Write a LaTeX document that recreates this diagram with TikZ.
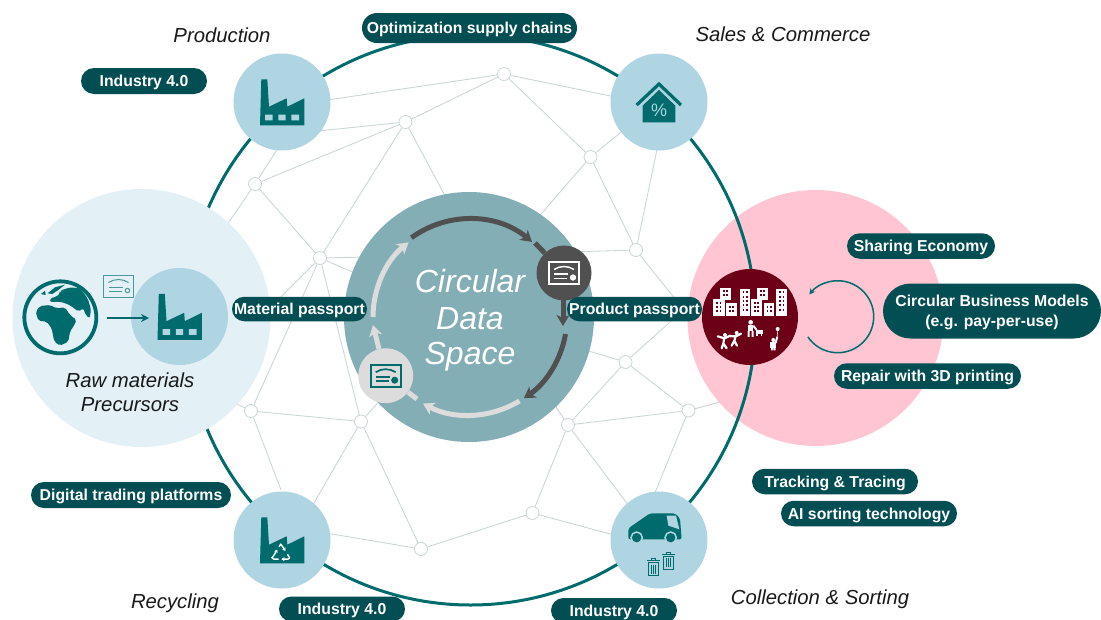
\documentclass[tikz,border=0pt]{standalone}
\usepackage{fontspec}
\setmainfont{Liberation Sans}
\usetikzlibrary{arrows.meta,shapes.misc,backgrounds}
\definecolor{pillc}{HTML}{024E52}
\definecolor{teal1}{HTML}{006B6D}
\definecolor{hubc}{HTML}{AFD4E2}
\definecolor{rawc}{HTML}{E3F0F5}
\definecolor{pinkc}{HTML}{FFC5D3}
\definecolor{maroon1}{HTML}{6B0016}
\definecolor{corec}{HTML}{84AEB5}
\definecolor{darkg}{HTML}{505050}
\definecolor{lightg}{HTML}{DCDCDC}
\definecolor{netc}{HTML}{CBD5D5}
\newcommand{\pilltext}[1]{\raisebox{-5.6pt}[0pt][0pt]{#1}}
\tikzset{
  pill/.style={rounded rectangle,fill=pillc,text=white,inner sep=0pt,font=\fontsize{15.8}{19.5}\selectfont\bfseries,align=center},
  hub/.style={circle,fill=hubc,minimum size=97pt,inner sep=0pt},
  netnode/.style={circle,draw=netc,fill=white,line width=.8pt,minimum size=13pt,inner sep=0pt},
  netline/.style={draw=netc,line width=.85pt},
  stagelabel/.style={font=\fontsize{20.3}{24}\selectfont\itshape,text=black!90},
  corelabel/.style={font=\fontsize{32}{38}\selectfont\itshape,text=white},
  flowdark/.style={draw=darkg,line width=5pt},
  flowlight/.style={draw=lightg,line width=5pt},
  tipd/.style={-{Stealth[length=11pt,width=13pt,inset=3pt]}},
  factorybody/.pic={
    \fill[teal1] (-20.7,-22.7)--(-14.7,-22.7)--(-13,4.7)--(4.7,-3.7)--(5.3,4.7)--(22.3,-3.7)--(22.3,23.3)--(-22,23.3)--cycle;
  },
  factorywin/.pic={
    \fill[hubc] (-17,12.7) rectangle (-9.3,18.3) (-3.7,12.7) rectangle (3.7,18.3) (9.3,12.7) rectangle (17,18.3);
  },
  binicon/.pic={
    \draw[teal1,line width=1pt] (-6.5,-7)--(6.5,-7);
    \draw[teal1,line width=1pt] (-2,-7)--(-2,-9)--(2,-9)--(2,-7);
    \draw[teal1,line width=1pt] (-5,-5)--(-5,8)--(5,8)--(5,-5)--cycle;
    \draw[teal1,line width=.9pt] (-2,-3)--(-2,6) (0,-3)--(0,6) (2,-3)--(2,6);
  },
}
\newcommand{\cardicon}[4]{%
  \begin{scope}[shift={(#1)},scale=#4]
    \draw[#2,line width=#3] (-15,-11) rectangle (15,11);
    \draw[#2,line width=#3] (-10,-3.5) .. controls (-4,-7.5) and (4,-7.5) .. (10,-3.5);
    \draw[#2,line width=#3] (-10,1)--(4,1) (-10,5.5)--(3,5.5);
    \draw[#2,line width=#3] (9,4.5) circle[radius=2.2];
  \end{scope}}
\begin{document}
\begin{tikzpicture}[x=1pt,y=-1pt]
\useasboundingbox (0,0) rectangle (1101,619);
% network nodes
\node[netnode] (n1) at (504,74) {};
\node[netnode] (n2) at (405.5,122) {};
\node[netnode] (n3) at (255,184) {};
\node[netnode] (n4) at (320,258) {};
\node[netnode] (n5) at (590.5,157) {};
\node[netnode] (n6) at (636,250) {};
\node[netnode] (n7) at (251,411) {};
\node[netnode] (n8) at (361,421.5) {};
\node[netnode] (n9) at (421,549) {};
\node[netnode] (n10) at (532.5,513) {};
\node[netnode] (n11) at (568,425) {};
\node[netnode] (n12) at (625.5,362) {};
\node[netnode] (n13) at (688.5,410.5) {};
% free ends hidden below the large discs
\foreach \nm/\px/\py in {e1/300/104,e2/318/131,e3/280/145,e4/620/98,e5/630/125,e6/660/135,e7/450/205,e8/535/221,e9/570/252,e10/370/257,e11/370/279.6,e12/695/324,e13/265/313,e14/222/232,e15/225/398,e16/385/395,e17/281/490,e18/310/510,e19/320/532,e20/625/538,e21/632/510,e22/652/500,e23/548/395,e24/575/347,e25/680/313,e26/735/398}
  {\coordinate (\nm) at (\px,\py);}
\begin{pgfonlayer}{background}
\fill[white] (0,0) rectangle (1101,619);
\foreach \a/\b in {n1/n2,n1/n5,n2/n3,n2/n4,n3/n4,n5/n6,n4/n7,n4/n8,n7/n8,n8/n9,n9/n10,n10/n11,n11/n12,n11/n13,n12/n13,
  n1/e1,n2/e2,n3/e3,n1/e4,n5/e5,n6/e6,n2/e7,n5/e8,n6/e9,n4/e10,n4/e11,n6/e12,n4/e13,n3/e14,n7/e15,n8/e16,n7/e17,n8/e18,n9/e19,n10/e20,n11/e21,n13/e22,n11/e23,n12/e24,n12/e25,n13/e26}
  {\draw[netline] (\a) -- (\b);}
\end{pgfonlayer}
% large discs
\node[circle,fill=pinkc,minimum size=256pt,inner sep=0pt] (pinkdisc) at (815.5,318) {};
\coordinate (ringc) at (470.5,320);
\draw[teal1,line width=3pt] (ringc) circle[radius=285];
\node[circle,fill=rawc,minimum size=258pt,inner sep=0pt] (rawdisc) at (141.5,318) {};
\node[circle,fill=corec,minimum size=250pt,inner sep=0pt] (core) at (469,317) {};
% hubs
\node[hub] (prod) at (282,102) {};
\node[hub] (sales) at (659,102) {};
\node[hub] (recy) at (282,540) {};
\node[hub] (coll) at (659,540) {};
\node[hub] (rawhub) at (179.5,316.5) {};
\node[circle,fill=maroon1,minimum size=96pt,inner sep=0pt] (city) at (750,317) {};
% factory icons
\pic at (282,102) {factorybody};
\pic at (282,102) {factorywin};
\pic at (179.5,316.5) {factorybody};
\pic at (179.5,316.5) {factorywin};
\pic at (282,540) {factorybody};
% recycling mark
\begin{scope}[shift={(280.7,552.3)},scale=.68,white,line width=1.4pt,line join=round]
  \draw[-{Stealth[length=3.2pt,width=4pt]}] (-11,6)--(-5,-4);
  \draw[-{Stealth[length=3.2pt,width=4pt]}] (-2.5,-8)--(0,-12)--(3,-8)--(7,-2);
  \draw[-{Stealth[length=3.2pt,width=4pt]}] (10,3)--(13,8)--(11,10)--(1,10);
  \draw (-3,10)--(-10,10)--(-13,8)--(-11,6);
\end{scope}
% house icon
\begin{scope}[shift={(600,40)},x=.3333pt,y=-.3333pt]
  \draw[teal1,line width=3.2pt] (110,195)--(177,132)--(243,195);
  \fill[teal1] (128,197)--(177,150)--(226,197)--(226,247)--(128,247)--cycle;
\end{scope}
\node[text=hubc,font=\fontsize{18}{18}\selectfont,inner sep=0pt] (pct) at (659,110) {\%};
% van icon
\begin{scope}[shift={(600,480)},x=.3333pt,y=-.3333pt]
  \fill[teal1,rounded corners=2pt] (85,178)--(85,145)--(150,100)--(225,100)--(240,115)--(245,178)--cycle;
  \fill[hubc] (200,107)--(228,107)--(238,148)--(205,137)--cycle;
  \fill[teal1,draw=hubc,line width=1.5pt] (110,173) circle[radius=17] (212,173) circle[radius=17];
\end{scope}
\pic at (653.5,567.5) {binicon};
\pic at (668.5,561) {binicon};
% globe
\begin{scope}[shift={(15,270)},x=.3333pt,y=-.3333pt]
  \draw[teal1,line width=3.8pt] (136,142) circle[radius=108];
  \fill[teal1,rounded corners=2pt] (62,125)--(75,108)--(105,105)--(125,115)--(150,112)--(165,135)--(185,150)--(178,165)--(165,185)--(160,215)--(135,227)--(118,215)--(110,175)--(95,155)--(70,152)--cycle;
  \fill[teal1,rounded corners=2pt] (135,62)--(165,52)--(195,55)--(218,85)--(228,118)--(224,145)--(212,135)--(205,115)--(190,125)--(178,115)--(160,103)--(135,95)--(105,96)--(105,85)--(125,80)--(135,70)--cycle;
  \fill[teal1] (98,70)--(120,52)--(150,44)--(130,60)--(112,72)--cycle;
  \fill[teal1] (78,72)--(90,62)--(92,75)--cycle;
\end{scope}
\coordinate (ga) at (107,318);
\coordinate (gb) at (149,318);
\draw[teal1,line width=2.2pt,-{Stealth[length=8pt,width=8pt]}] (ga)--(gb);
\cardicon{118.5,286}{teal1!70!white}{1pt}{1}
% city icon
\begin{scope}[shift={(705,275)},x=.3333pt,y=-.3333pt]
  \foreach \xa/\ya/\xb/\yb in {45/38/78/75,104/42/135/122,156/38/190/75,214/42/246/122,25/73/60/122,63/85/97/122,138/73/172/122,176/85/208/122}{
    \fill[white] (\xa,\ya) rectangle (\xb,\yb);
    \pgfmathsetmacro{\wa}{\xa+9}
    \pgfmathsetmacro{\wb}{\xa+19}
    \foreach \rowy in {0,1,2,3,4,5}{
      \pgfmathsetmacro{\ty}{\ya+7+\rowy*13}
      \pgfmathparse{int(\ty+9<\yb ? 1:0)}
      \ifnum\pgfmathresult=1
        \fill[maroon1] (\wa,\ty) rectangle +(5,6);
        \fill[maroon1] (\wb,\ty) rectangle +(5,6);
      \fi
    }
  }
  % people
  \fill[white] (60,180) circle[radius=6] (95,174) circle[radius=6] (137,142) circle[radius=7] (205,195) circle[radius=6] (218,162) circle[radius=6];
  \draw[white,line width=2.2pt,line cap=round] (58,188)--(55,205)--(50,220) (55,205)--(65,220) (58,190)--(38,184) (58,190)--(76,182);
  \draw[white,line width=2.2pt,line cap=round] (92,182)--(88,197)--(80,212) (88,197)--(96,212) (92,184)--(76,184) (92,184)--(108,176);
  \fill[white] (129,150) rectangle (145,168);
  \draw[white,line width=2pt] (131,168)--(131,186) (143,168)--(143,186) (145,152)--(155,165);
  \fill[white] (152,164) rectangle (174,176);
  \draw[white,line width=1.1pt] (156,176)--(156,184) (170,176)--(170,184);
  \fill[white] (196,202) rectangle (213,218);
  \draw[white,line width=2pt] (201,218)--(201,226) (209,218)--(209,226) (212,204)--(217,185);
  \draw[white,line width=.5pt] (217,185)--(218,166);
\end{scope}
% cycle arrow
\draw[teal1,line width=1.5pt,-{Stealth[length=6pt,width=6pt]}] (837.7,316.7) ++(146:36) arc[start angle=146,end angle=-142,radius=36];
% core flow
\coordinate (cc) at (469,317);
\draw[flowdark,tipd] (cc) ++(-126:98) arc[start angle=-126,end angle=-50,radius=98];
\draw[flowdark,tipd] (cc) ++(10:98) arc[start angle=10,end angle=56,radius=98];
\draw[flowlight,tipd] (cc) ++(59:98) arc[start angle=59,end angle=118,radius=98];
\draw[flowlight,tipd] (cc) ++(180:96) arc[start angle=180,end angle=231,radius=96];
\node[circle,fill=darkg,minimum size=55pt,inner sep=0pt] (darkcard) at (564,273) {};
\node[circle,fill=lightg,minimum size=55pt,inner sep=0pt] (lightcard) at (385.7,375.7) {};
\coordinate (s1) at (535,243);
\coordinate (s2) at (563,326);
\coordinate (s3) at (417,399);
\coordinate (s4) at (373,325);
\draw[flowdark] (s1)--(darkcard);
\draw[flowdark,tipd] (563,298)--(s2);
\draw[flowlight] (s3)--(lightcard);
\draw[flowlight,tipd] (379,349)--(s4);
\cardicon{564,273}{white}{1.5pt}{1}
\cardicon{385.7,375.7}{teal1}{1.7pt}{1}
\fill[teal1] (394.7,380.2) circle[radius=3.5];
\fill[white] (573,277.5) circle[radius=3];
% labels
\node[corelabel] (t1) at (470,281) {Circular};
\node[corelabel] (t2) at (470,319) {Data};
\node[corelabel] (t3) at (470,357) {Space};
\node[stagelabel] (l1) at (222,35) {Production};
\node[stagelabel] (l2) at (783,34) {Sales \& Commerce};
\node[stagelabel] (l3) at (175,603) {Recycling};
\node[stagelabel] (l4) at (820,599) {Collection \& Sorting};
\node[stagelabel] (l5) at (130,380.5) {Raw materials};
\node[stagelabel] (l6) at (130,405) {Precursors};
% pills
\node[pill,minimum width=215pt,minimum height=30pt] (p1) at (469.5,28) {\pilltext{Optimization supply chains}};
\node[pill,minimum width=126pt,minimum height=26pt] (p2) at (144,81) {\pilltext{Industry 4.0}};
\node[pill,minimum width=135pt,minimum height=24.5pt] (p3) at (299.5,309) {\pilltext{Material passport}};
\node[pill,minimum width=135pt,minimum height=24.5pt] (p4) at (634.5,309) {\pilltext{Product passport}};
\node[pill,minimum width=148pt,minimum height=25.5pt] (p5) at (921,246) {\pilltext{Sharing Economy}};
\node[pill,minimum width=218pt,minimum height=55pt] (p6) at (992,311) {\pilltext{Circular Business Models}\\\pilltext{(e.g. pay-per-use)}};
\node[pill,minimum width=187pt,minimum height=25.5pt] (p7) at (927.5,376) {\pilltext{Repair with 3D printing}};
\node[pill,minimum width=166pt,minimum height=25.5pt] (p8) at (835,481.5) {\pilltext{Tracking \& Tracing}};
\node[pill,minimum width=176pt,minimum height=25.5pt] (p9) at (869,513.5) {\pilltext{AI sorting technology}};
\node[pill,minimum width=200pt,minimum height=26pt] (p10) at (131,495) {\pilltext{Digital trading platforms}};
\node[pill,minimum width=126pt,minimum height=25pt] (p11) at (342,609) {\pilltext{Industry 4.0}};
\node[pill,minimum width=126pt,minimum height=25pt] (p12) at (614,610.5) {\pilltext{Industry 4.0}};
\end{tikzpicture}
\end{document}
